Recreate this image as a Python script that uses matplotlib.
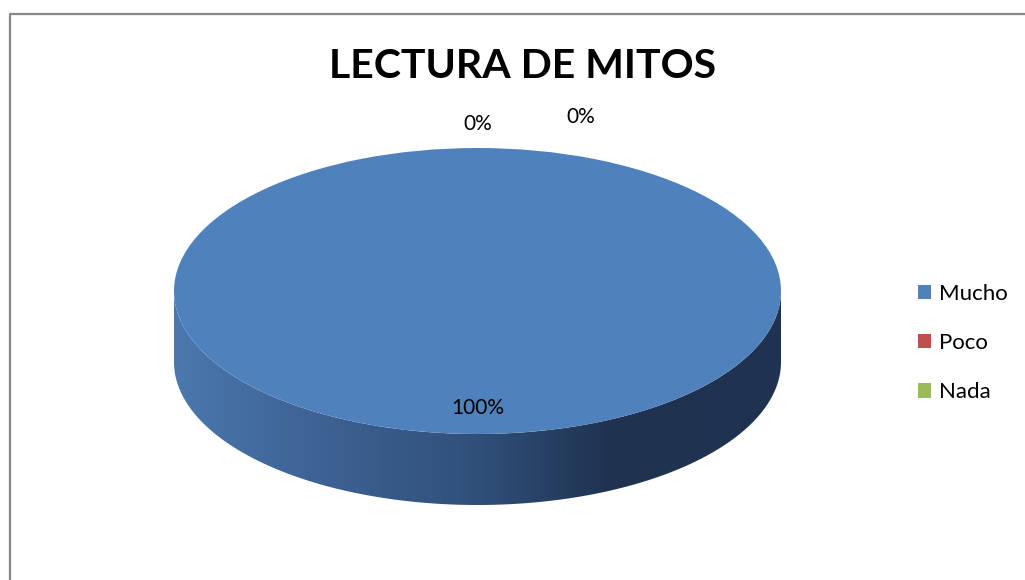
import numpy as np
import matplotlib
matplotlib.use('Agg')
import matplotlib.pyplot as plt
from matplotlib.patches import Polygon
from matplotlib.lines import Line2D
from matplotlib.colors import LinearSegmentedColormap

plt.rcParams['font.family'] = ['Lato', 'DejaVu Sans']

title = 'LECTURA DE MITOS'
categories = ['Mucho', 'Poco', 'Nada']
values = [100, 0, 0]
colors = ['#4f81bd', '#c0504d', '#9bbb59']

# dark side gradients (light left -> dark right) for each slice
side_colors = [[(0, '#4b78ad'), (0.25, '#3d6192'), (0.5, '#30507a'),
                (0.72, '#1f3250'), (1, '#1f3452')],
               [(0, '#b04a47'), (0.5, '#7a3432'), (0.72, '#5c2625'), (1, '#5e2726')],
               [(0, '#8caa50'), (0.5, '#62763a'), (0.72, '#4b5c2b'), (1, '#4d5e2c')]]

W, H = 1025, 580
cx, cy, rx, ry = 477.5, 291, 303.5, 143
depth = 71 / ry

fig = plt.figure(figsize=(W / 100, H / 100), dpi=100)
ax = fig.add_axes([0, 0, 1, 1])

# 3d side of the pie: front half of every slice, pushed down by depth
fracs = np.array(values, dtype=float) / sum(values)
start = 90.0
for i, f in enumerate(fracs):
    a0, a1 = start - f * 360, start
    start = a0
    if f == 0:
        continue
    for shift in (0, -360):
        l2, h2 = max(a0 - shift, -180), min(a1 - shift, 0)
        if h2 <= l2:
            continue
        th = np.radians(np.linspace(l2, h2, 200))
        top = np.column_stack([np.cos(th), np.sin(th)])
        bot = np.column_stack([np.cos(th[::-1]), np.sin(th[::-1]) - depth])
        poly = Polygon(np.vstack([top, bot]), closed=True, facecolor='none',
                       edgecolor='none')
        ax.add_patch(poly)
        cmap = LinearSegmentedColormap.from_list('side', side_colors[i])
        grad = np.linspace(0, 1, 256).reshape(1, -1)
        im = ax.imshow(grad, cmap=cmap, aspect='auto',
                       extent=[-1, 1, -1 - depth, 0.1], zorder=1)
        im.set_clip_path(poly)

wedges, texts, autotexts = ax.pie(values, colors=colors, startangle=90,
                                  counterclock=False, radius=1,
                                  autopct=lambda p: f'{p:.0f}%',
                                  pctdistance=0.82,
                                  wedgeprops=dict(linewidth=0),
                                  textprops=dict(fontsize=15, color='black'))
for w in wedges:
    w.set_zorder(2)
for t in autotexts:
    t.set_zorder(3)

# zero slices get their labels outside, above the pie
zero_pos = [(0.0, 1.17), (0.34, 1.22)]
k = 0
for v, t in zip(values, autotexts):
    if v == 0:
        t.set_position(zero_pos[k])
        k += 1

ax.set_aspect('auto')
ax.set_xlim((0 - cx) / rx, (W - cx) / rx)
ax.set_ylim((cy - H) / ry, cy / ry)
ax.axis('off')

fig.text(523 / W, 1 - 67 / H, title, ha='center', va='center',
         fontsize=29.5, fontweight='bold')

fig.legend(wedges, categories, loc='center left',
           bbox_to_anchor=(898 / W, 1 - 343 / H), frameon=False,
           fontsize=16, handlelength=0.6, handleheight=0.6,
           handletextpad=0.35, labelspacing=1.32)

# chart border (runs off the right and bottom edge)
fig.add_artist(Line2D([10 / W, 10 / W, 1], [0, 1 - 13.5 / H, 1 - 13.5 / H],
                      transform=fig.transFigure, color='#888888', lw=1.6))

fig.savefig('out.png', dpi=100)
